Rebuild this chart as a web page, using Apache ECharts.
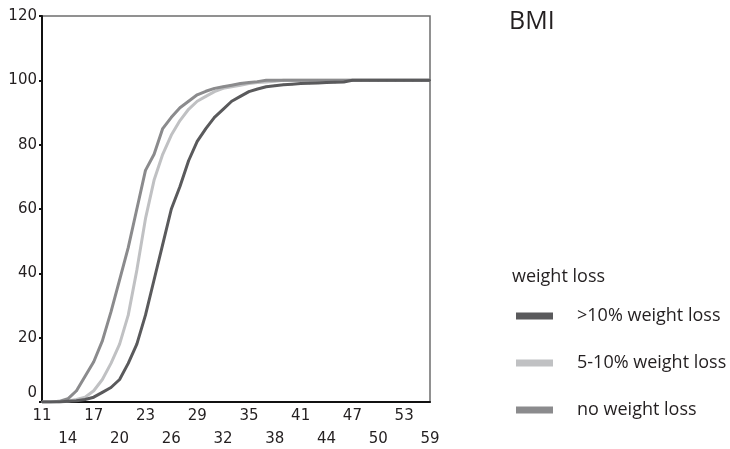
<!DOCTYPE html>
<html>
<head>
<meta charset="utf-8">
<script src="https://cdn.jsdelivr.net/npm/echarts@6/dist/echarts.min.js"></script>
<style>html,body{margin:0;padding:0;background:#fff}#c{width:730px;height:449px}</style>
</head>
<body>
<div id="c"></div>
<script>
const categories = ['11','12','13','14','15','16','17','18','19','20','21','22','23','24','25','26','27','28','29','30','31','32','33','34','35','36','37','38','39','40','41','42','43','44','45','46','47','48','49','50','51','52','53','54','55','59'];
const over10 = [0,0,0,0.2,0.4,0.8,1.5,3,4.5,7,12,18,27,38,49,60,67,75,81,85,88.5,91,93.5,95,96.5,97.3,98,98.3,98.6,98.8,99,99.1,99.2,99.3,99.4,99.5,100,100,100,100,100,100,100,100,100,100];
const from5to10 = [0,0,0,0.3,0.8,1.5,3.5,7,12,18,27,41,57,69,77,83,87.5,91,93.5,95,96.5,97.5,98,98.5,99,99.3,99.5,99.7,100,100,100,100,100,100,100,100,100,100,100,100,100,100,100,100,100,100];
const noLoss = [0,0,0.2,1,3.5,8,12.5,19,28,38,48,60,72,77,85,88.5,91.5,93.5,95.5,96.6,97.5,98,98.5,99,99.3,99.6,100,100,100,100,100,100,100,100,100,100,100,100,100,100,100,100,100,100,100,100];
const seriesNames = ['>10% weight loss','5-10% weight loss','no weight loss'];
const yTicks = [0,20,40,60,80,100,120];

const chart = echarts.init(document.getElementById('c'));
const font = 'DejaVu Sans';
const mk = (name, data, color, z) => ({
  name, type: 'line', data, z,
  symbol: 'circle', symbolSize: 2, showSymbol: true,
  itemStyle: { color: color },
  lineStyle: { color: color, width: 3 },
  emphasis: { disabled: true }
});
chart.setOption({
  animation: false,
  title: {
    text: 'BMI', left: 509, top: 9, padding: 0,
    textStyle: { fontFamily: 'Open Sans', fontSize: 25, fontWeight: 'normal', color: '#231f20' }
  },
  graphic: [{
    type: 'text', left: 512, top: 268,
    style: { text: 'weight loss', font: '18px "Open Sans"', fill: '#231f20' }
  }],
  legend: {
    orient: 'vertical', left: 516, top: 306, padding: 0,
    itemWidth: 37, itemHeight: 7, itemGap: 27,
    icon: 'rect',
    data: seriesNames,
    textStyle: { fontFamily: 'Open Sans', fontSize: 18, color: '#231f20', lineHeight: 20, padding: [0, 0, 0, 19] }
  },
  grid: { left: 42, right: 300, top: 16, bottom: 47, show: true, borderColor: '#6d6d6d', borderWidth: 1.5, outerBoundsMode: 'none' },
  xAxis: {
    type: 'category', data: categories, boundaryGap: false,
    axisLine: { lineStyle: { color: '#111', width: 2 } },
    axisTick: { show: false },
    axisLabel: {
      interval: 2, margin: 3, color: '#231f20', fontFamily: font, fontSize: 15, lineHeight: 23,
      formatter: (v, i) => ((i / 3) % 2 === 1 ? '\n' + v : v)
    },
    splitLine: { show: false }
  },
  yAxis: {
    type: 'value', min: 0, max: 120, interval: 20,
    axisLine: { show: true, lineStyle: { color: '#111', width: 2 } },
    axisTick: { show: true, length: 3, lineStyle: { color: '#111', width: 2 } },
    axisLabel: {
      margin: 5, color: '#231f20', fontFamily: font, fontSize: 15,
      formatter: v => (v === 0 ? '{z|0}' : String(v)),
      rich: { z: { fontFamily: font, fontSize: 15, color: '#231f20', padding: [0, 0, 18, 0] } }
    },
    splitLine: { show: false }
  },
  series: [
    mk(seriesNames[0], over10, '#5a5a5c', 4),
    mk(seriesNames[1], from5to10, '#c0c1c3', 2),
    mk(seriesNames[2], noLoss, '#8b8b8d', 3)
  ]
});
</script>
</body>
</html>
